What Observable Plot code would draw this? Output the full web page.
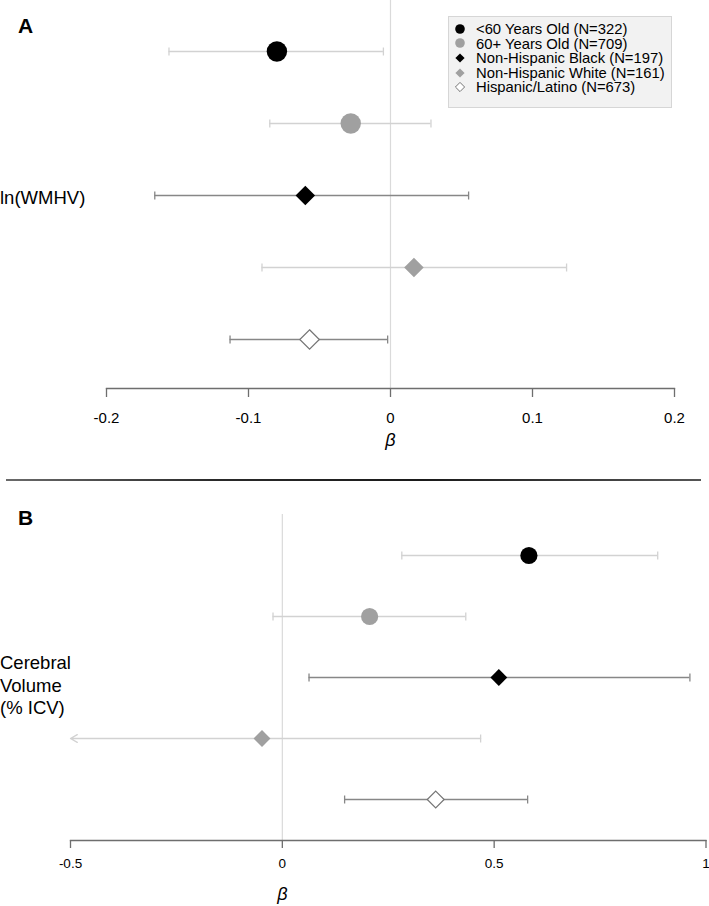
<!DOCTYPE html>
<html>
<head>
<meta charset="utf-8">
<script src="https://cdn.jsdelivr.net/npm/d3@7"></script>
<script src="https://cdn.jsdelivr.net/npm/@observablehq/plot@0.6"></script>
<style>
  html, body { margin: 0; padding: 0; background: #fff; }
  body { font-family: "Liberation Sans", Arial, Helvetica, sans-serif; }
  #fig { position: relative; width: 709px; height: 906px; overflow: hidden; background: #fff; }
  #fig svg.plot { position: absolute; left: 0; }
  .lbl { position: absolute; line-height: 1; color: #000; white-space: nowrap; }
  .panel { font-weight: bold; font-size: 21px; }
  .ylab { font-size: 18.5px; }
  #legend { position: absolute; left: 448px; top: 16px; width: 222px; height: 85px;
            background: #f2f2f2; border: 1px solid #d6d6d6; padding-top: 5px; box-sizing: content-box; }
  #legend .row { position: relative; height: 14.6px; line-height: 14.6px; font-size: 14.8px; padding-left: 27px; white-space: nowrap; }
  #legend .row svg { position: absolute; left: 6px; top: 1.9px; }
  #sep { position: absolute; left: 6px; width: 695px; top: 479px; height: 1.6px;
         background: linear-gradient(to right, #6a6a6a, #2a2a2a 30%, #1a1a1a 60%, #555 100%); }
</style>
</head>
<body>
<div id="fig"></div>
<script>
// ---------- data ----------
const groups = [
  "<60 Years Old (N=322)",
  "60+ Years Old (N=709)",
  "Non-Hispanic Black (N=197)",
  "Non-Hispanic White (N=161)",
  "Hispanic/Latino (N=673)"
];
// Panel A: ln(WMHV)
const wmhvBeta = [-0.080, -0.028, -0.060, 0.0165, -0.057];
const wmhvLo   = [-0.156, -0.085, -0.166, -0.0905, -0.113];
const wmhvHi   = [-0.005, 0.0285, 0.055, 0.124, -0.002];
const wmhvTicks = [-0.2, -0.1, 0, 0.1, 0.2];
// Panel B: Cerebral Volume (% ICV)
const cvBeta = [0.582, 0.206, 0.511, -0.048, 0.362];
const cvLo   = [0.282, -0.022, 0.063, -0.564, 0.147];
const cvHi   = [0.886, 0.433, 0.962, 0.468, 0.579];
const cvTicks = [-0.5, 0, 0.5, 1];

const panelLabels = ["A", "B"];
const outcomeLabels = ["ln(WMHV)", "Cerebral<br>Volume<br>(% ICV)"];
const axisTitle = "β";

// ---------- styles ----------
const groupStyle = [
  {symbol: "circle",   fill: "#000000", stroke: "none",    bar: "#d2d2d2"},
  {symbol: "circle",   fill: "#a0a0a0", stroke: "none",    bar: "#d2d2d2"},
  {symbol: "diamond2", fill: "#000000", stroke: "none",    bar: "#878787"},
  {symbol: "diamond2", fill: "#a0a0a0", stroke: "none",    bar: "#d2d2d2"},
  {symbol: "diamond2", fill: "#ffffff", stroke: "#757575", bar: "#878787"}
];

const capSymbol = {
  draw(ctx, size) {
    const h = Math.sqrt(size / Math.PI);
    ctx.moveTo(0, -h);
    ctx.lineTo(0, h);
  }
};

function panel(opt) {
  const rows = groups.map((g, i) => ({
    group: g, beta: opt.beta[i], lo: opt.lo[i], hi: opt.hi[i], ...groupStyle[i]
  }));
  const xmin = opt.domain[0];
  const inside = rows.filter(d => d.lo >= xmin);
  const outside = rows.filter(d => d.lo < xmin);
  return Plot.plot({
    width: 709,
    height: opt.height,
    marginTop: opt.marginTop,
    marginBottom: opt.marginBottom,
    marginLeft: opt.marginLeft,
    marginRight: opt.marginRight,
    x: {domain: opt.domain},
    y: {type: "point", domain: groups, range: opt.yRange, padding: 0, axis: null},
    color: {type: "identity"},
    style: {fontFamily: '"Liberation Sans", Arial, Helvetica, sans-serif', background: "transparent", overflow: "visible", color: "#000"},
    marks: [
      Plot.ruleX([0], {stroke: "#dadada", strokeWidth: 1.2}),
      Plot.ruleY(inside, {y: "group", x1: "lo", x2: "hi", stroke: "bar", strokeWidth: 1.3}),
      Plot.arrow(outside, {x1: "hi", y1: "group", x2: d => Math.max(d.lo, xmin), y2: "group",
                           stroke: "bar", strokeWidth: 1.3, headLength: 9, headAngle: 60}),
      Plot.dot(inside, {x: "lo", y: "group", symbol: capSymbol, r: 4, fill: "none", stroke: "bar", strokeWidth: 1.3}),
      Plot.dot(rows, {x: "hi", y: "group", symbol: capSymbol, r: 4, fill: "none", stroke: "bar", strokeWidth: 1.3}),
      Plot.dot(rows.filter(d => d.symbol === "circle"), {x: "beta", y: "group", r: opt.rCircle, fill: "fill", stroke: "none"}),
      Plot.dot(rows.filter(d => d.symbol === "diamond2"), {x: "beta", y: "group", symbol: "diamond2", r: opt.rDiamond,
                           fill: "fill", stroke: "stroke", strokeWidth: 1.2}),
      Plot.frame({anchor: "bottom", stroke: "#6e6e6e", strokeWidth: 1.3}),
      Plot.axisX({ticks: opt.ticks, tickFormat: d => String(d), tickSize: opt.tickSize, tickPadding: opt.tickPadding,
                  fontSize: opt.tickFont, stroke: "#6e6e6e", strokeWidth: 1.3, label: null}),
      Plot.text([0], {x: d => d, text: () => axisTitle, frameAnchor: "bottom", lineAnchor: "middle",
                      dy: opt.betaDy, fontStyle: "italic", fontSize: 18, fill: "#000"})
    ]
  });
}

const fig = document.getElementById("fig");

const svgA = panel({
  beta: wmhvBeta, lo: wmhvLo, hi: wmhvHi, ticks: wmhvTicks, domain: [-0.2, 0.2],
  height: 479, marginTop: 0, marginBottom: 91, marginLeft: 106, marginRight: 35,
  yRange: [49, 340], rCircle: 10.2, rDiamond: 8.8, tickSize: 9, tickPadding: 15, tickFont: 15, betaDy: 52
});
svgA.style.top = "0px";
fig.appendChild(svgA);

const svgB = panel({
  beta: cvBeta, lo: cvLo, hi: cvHi, ticks: cvTicks, domain: [-0.5, 1],
  height: 424, marginTop: 35, marginBottom: 63, marginLeft: 70, marginRight: 3.5,
  yRange: [75, 321], rCircle: 8.6, rDiamond: 7.6, tickSize: 8, tickPadding: 10, tickFont: 13.5, betaDy: 54
});
svgB.style.top = "482px";
fig.appendChild(svgB);

// separator
const sep = document.createElement("div");
sep.id = "sep";
fig.appendChild(sep);

// panel letters and outcome labels
function addLabel(html, cls, left, top) {
  const el = document.createElement("div");
  el.className = "lbl " + cls;
  el.innerHTML = html;
  el.style.left = left + "px";
  el.style.top = top + "px";
  fig.appendChild(el);
  return el;
}
addLabel(panelLabels[0], "panel", 18, 15);
addLabel(panelLabels[1], "panel", 18, 507);
addLabel(outcomeLabels[0], "ylab", 0, 189);
const yl = addLabel(outcomeLabels[1], "ylab", 0, 652);
yl.style.lineHeight = "22.5px";

// legend
const legend = document.createElement("div");
legend.id = "legend";
groups.forEach((g, i) => {
  const s = groupStyle[i];
  const row = document.createElement("div");
  row.className = "row";
  const shape = s.symbol === "circle"
    ? `<circle cx="5" cy="5" r="4.8" fill="${s.fill}"/>`
    : `<path d="M5,0.4 L9.6,5 L5,9.6 L0.4,5 Z" fill="${s.fill}" stroke="${s.stroke}" stroke-width="1"/>`;
  row.innerHTML = `<svg width="10" height="10" viewBox="0 0 10 10">${shape}</svg>`;
  row.appendChild(document.createTextNode(g));
  legend.appendChild(row);
});
fig.appendChild(legend);
</script>
</body>
</html>
